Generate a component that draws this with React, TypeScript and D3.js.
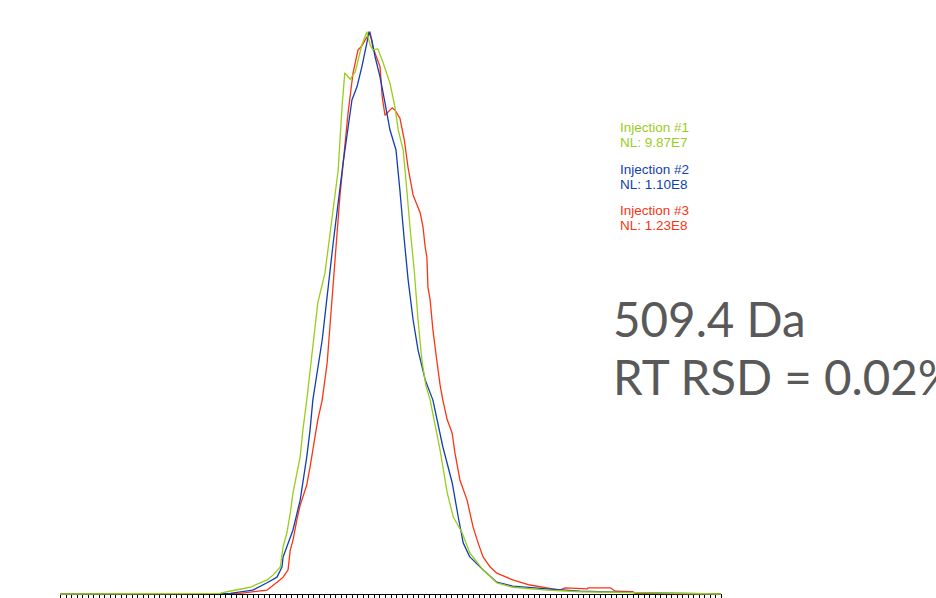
import React from "react";
import * as d3 from "d3";

// x: scan index (0..120), y: relative intensity (%)
const injection1X = [0, 29.0, 30.3, 34.5, 37.6, 38.7, 40.0, 40.5, 41.2, 41.8, 42.3, 43.6, 44.1, 44.8, 46.8, 48.1, 50.5, 51.2, 51.7, 52.7, 53.6, 54.8, 55.7, 56.3, 56.8, 57.7, 58.6, 59.9, 60.8, 61.4, 62.3, 62.8, 63.5, 64.3, 65.0, 65.7, 66.4, 67.2, 69.0, 70.3, 71.4, 73.0, 74.4, 76.8, 79.3, 82.2, 88.4, 94.4, 106.6, 120];
const injection1Y = [0, 0.1, 0.4, 1.2, 2.5, 3.4, 4.8, 8.4, 10.9, 14.4, 18.0, 24.4, 29.2, 34.5, 51.8, 57.1, 75.4, 86.7, 92.7, 91.6, 92.9, 97.7, 100, 97.7, 96.8, 97.0, 94.7, 90.9, 86.7, 82.6, 79.0, 73.7, 65.7, 57.7, 48.8, 41.6, 37.2, 34.5, 25.6, 18.0, 13.7, 10.9, 7.3, 4.3, 2.0, 1.2, 0.7, 0.4, 0.2, 0];

const injection2X = [0, 30.9, 35.0, 37.6, 39.4, 40.3, 40.5, 42.3, 43.6, 44.8, 45.4, 45.9, 47.6, 49.6, 51.4, 53.0, 53.9, 54.8, 55.7, 56.1, 56.6, 57.2, 58.1, 59.0, 59.9, 61.0, 61.7, 62.5, 63.2, 64.1, 65.0, 66.3, 67.7, 69.5, 71.2, 72.3, 73.2, 74.4, 76.8, 79.3, 82.2, 88.4, 94.4, 106.6, 120];
const injection2Y = [0, 0.1, 0.7, 2.0, 3.0, 4.8, 6.6, 11.4, 16.7, 24.4, 29.2, 34.5, 45.2, 62.5, 76.7, 87.9, 90.2, 93.8, 98.0, 100, 98.6, 95.6, 92.0, 87.4, 82.6, 79.0, 71.9, 63.0, 55.9, 48.8, 43.4, 38.1, 34.5, 26.2, 19.8, 13.7, 9.1, 6.6, 4.3, 2.1, 1.4, 0.9, 0.5, 0.2, 0];

const injection3X = [0, 32.7, 37.6, 39.4, 40.5, 41.4, 41.8, 42.3, 43.0, 43.6, 44.8, 45.4, 45.9, 46.8, 47.6, 48.5, 50.8, 52.3, 53.2, 54.1, 54.8, 55.4, 56.3, 56.8, 58.1, 58.5, 59.0, 60.3, 60.8, 61.7, 62.5, 63.2, 64.1, 65.4, 65.9, 66.3, 66.6, 66.8, 67.2, 67.7, 68.4, 69.0, 69.5, 70.3, 71.2, 71.7, 72.6, 73.9, 75.0, 75.9, 76.8, 78.1, 79.3, 82.2, 85.3, 88.4, 90.8, 91.7, 95.7, 95.9, 99.9, 100.8, 104.0, 104.4, 120];
const injection3Y = [0, 0.1, 0.7, 2.1, 3.0, 4.3, 7.8, 9.6, 13.2, 15.8, 19.4, 22.6, 25.6, 31.0, 34.5, 41.1, 70.6, 85.6, 92.7, 96.8, 97.5, 98.6, 100, 97.3, 93.8, 88.4, 85.2, 86.5, 86.1, 84.7, 80.8, 75.8, 71.0, 67.8, 65.3, 61.7, 60.0, 54.6, 52.3, 47.0, 41.6, 37.2, 34.5, 31.0, 28.6, 25.1, 20.3, 16.7, 11.9, 9.1, 6.6, 4.8, 3.7, 2.5, 1.6, 1.1, 0.7, 1.1, 0.9, 1.1, 1.1, 0.5, 0.4, 0.1, 0];

const seriesNames = ["Injection #1", "Injection #2", "Injection #3"];
const seriesNL = ["NL: 9.87E7", "NL: 1.10E8", "NL: 1.23E8"];
const seriesColors = ["#9acd1a", "#0f3fb0", "#fa3414"];
const tickValues = d3.range(0, 121, 1);
const titleLines = ["509.4 Da", "RT RSD = 0.02%"];

const W = 936;
const H = 598;

export default function App() {
  const x = d3.scaleLinear().domain([0, 120]).range([60, 721]);
  const y = d3.scaleLinear().domain([0, 100]).range([594, 32]);
  const line = d3
    .line<[number, number]>()
    .x((d) => x(d[0]))
    .y((d) => y(d[1]));

  const series = [
    { xs: injection1X, ys: injection1Y, c: seriesColors[0] },
    { xs: injection2X, ys: injection2Y, c: seriesColors[1] },
    { xs: injection3X, ys: injection3Y, c: seriesColors[2] },
  ];
  const drawOrder = [2, 1, 0];

  const legendY = [132, 174, 215];

  return (
    <svg
      width={W}
      height={H}
      style={{ position: "absolute", left: 0, top: 0, background: "#fff" }}
    >
      <rect x={0} y={0} width={W} height={H} fill="#fff" />
      {/* axis */}
      <line x1={x(0)} x2={x(120)} y1={594.5} y2={594.5} stroke="#000" strokeWidth={1} />
      {tickValues.map((t) => (
        <line
          key={t}
          x1={Math.round(x(t)) + 0.5}
          x2={Math.round(x(t)) + 0.5}
          y1={594}
          y2={598}
          stroke="#000"
          strokeWidth={1}
        />
      ))}
      {drawOrder.map((i) => {
        const s = series[i];
        const pts = s.xs.map((v, k) => [v, s.ys[k]] as [number, number]);
        return (
          <path
            key={i}
            d={line(pts) || ""}
            fill="none"
            stroke={s.c}
            strokeWidth={1.3}
            strokeLinejoin="round"
          />
        );
      })}
      {seriesNames.map((n, i) => (
        <g key={n} fontFamily="'Liberation Sans', Arial, sans-serif" fontSize={13.5} fill={seriesColors[i]}>
          <text x={620} y={legendY[i]}>{n}</text>
          <text x={620} y={legendY[i] + 15}>{seriesNL[i]}</text>
        </g>
      ))}
      <g fontFamily="Lato, 'Open Sans', sans-serif" fontSize={47.5} fill="#595959">
        <text x={613} y={337}>{titleLines[0]}</text>
        <text x={613} y={395}>{titleLines[1]}</text>
      </g>
    </svg>
  );
}
